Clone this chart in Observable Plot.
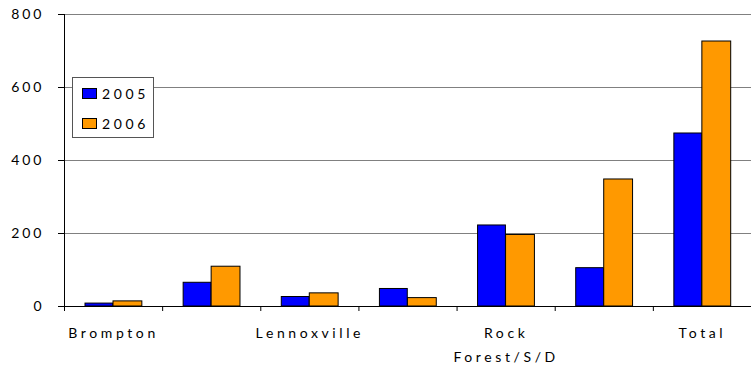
<!DOCTYPE html>
<html>
<head>
<meta charset="utf-8">
<script src="https://cdn.jsdelivr.net/npm/d3@7"></script>
<script src="https://cdn.jsdelivr.net/npm/@observablehq/plot@0.6"></script>
<style>
  html, body { margin: 0; padding: 0; background: #fff; }
  #wrap { position: relative; width: 751px; height: 367px; font-family: Lato, "DejaVu Sans", sans-serif; }
  #legend { position: absolute; left: 72px; top: 77px; width: 80px; height: 59px; background: #fff; border: 1px solid #555; }
  .item { position: absolute; left: 9px; display: flex; align-items: center; font-size: 14px; letter-spacing: 3.6px; color: #000; }
  .sw { width: 13px; height: 9px; border: 1px solid #000; margin-right: 5px; }
</style>
</head>
<body>
<div id="wrap"></div>
<script>
const categories = ["Brompton", "Fleurimont", "Lennoxville", "Mont-Bellevue", "Rock Forest/S/D", "Jacques-Cartier", "Total"];
const tickLabels = ["Brompton", "", "Lennoxville", "", "Rock\nForest/S/D", "", "Total"];
const series = ["2005", "2006"];
const values2005 = [8, 65, 26, 48, 222, 105, 474];
const values2006 = [14, 109, 36, 23, 196, 348, 726];
const colors = ["#0000FF", "#FF9900"];
const yTicks = [0, 200, 400, 600, 800];

const rows2005 = categories.map((c, i) => ({i, category: c, value: values2005[i]}));
const rows2006 = categories.map((c, i) => ({i, category: c, value: values2006[i]}));

const chart = Plot.plot({
  width: 751,
  height: 367,
  marginLeft: 64,
  marginRight: 0,
  marginTop: 14,
  marginBottom: 61,
  style: {fontFamily: "Lato, 'DejaVu Sans', sans-serif", fontSize: "14px", color: "#000", background: "#fff"},
  x: {type: "linear", domain: [0, categories.length], axis: null},
  y: {domain: [0, 800], axis: null},
  marks: [
    Plot.ruleY(yTicks.filter(d => d > 0), {stroke: "#808080", strokeWidth: 1}),
    Plot.rectY(rows2005, {x1: d => d.i, x2: d => d.i + 1, y: "value", insetLeft: 21, insetRight: 49.3, fill: colors[0], stroke: "#000", strokeWidth: 1}),
    Plot.rectY(rows2006, {x1: d => d.i, x2: d => d.i + 1, y: "value", insetLeft: 49, insetRight: 20.3, fill: colors[1], stroke: "#000", strokeWidth: 1}),
    Plot.ruleX([0], {stroke: "#000", strokeWidth: 1}),
    Plot.ruleY([0], {stroke: "#000", strokeWidth: 1}),
    Plot.axisY({ticks: yTicks, label: null, tickSize: 6, tickPadding: 14, tickFormat: d => String(d), stroke: "#000", fill: "#000", fontSize: 14}),
    Plot.axisX({ticks: d3.range(categories.length + 1), label: null, tickSize: 5, tickFormat: () => "", stroke: "#000"}),
    Plot.text(tickLabels, {x: (d, i) => i + 0.5, y: 0, dy: 14, lineAnchor: "top", lineHeight: 1.75, fontSize: 14, fill: "#000", textAnchor: "middle"})
  ]
});

const wrap = document.getElementById("wrap");
wrap.appendChild(chart);

d3.select(chart).selectAll('g[aria-label="y-axis tick label"] text').style("letter-spacing", "3px");
d3.select(chart).selectAll('g[aria-label="text"] text').style("letter-spacing", "3.6px");

const legend = document.createElement("div");
legend.id = "legend";
series.forEach((s, k) => {
  const item = document.createElement("div");
  item.className = "item";
  item.style.top = (k === 0 ? 7 : 37) + "px";
  const sw = document.createElement("span");
  sw.className = "sw";
  sw.style.background = colors[k];
  item.appendChild(sw);
  const t = document.createElement("span");
  t.textContent = s;
  item.appendChild(t);
  legend.appendChild(item);
});
wrap.appendChild(legend);
</script>
</body>
</html>
